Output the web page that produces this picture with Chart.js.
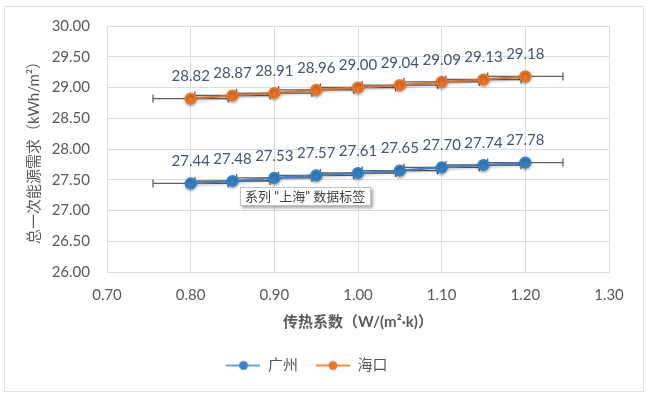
<!DOCTYPE html>
<html>
<head>
<meta charset="utf-8">
<script src="https://cdn.jsdelivr.net/npm/chart.js@4.4.1/dist/chart.umd.min.js"></script>
<style>
  html, body { margin: 0; padding: 0; background: #ffffff; }
  #wrap { position: relative; width: 652px; height: 397px; }
  #frame { position: absolute; left: 4px; top: 6px; width: 638px; height: 384px; border: 1px solid #dde2ea; }
  #c { position: absolute; left: 0; top: 0; }
  #tip { position: absolute; left: 240px; top: 187px; width: 125px; height: 17px; border: 1px solid #bfbfbf;
         background: #ffffff; box-shadow: 2px 2px 3px rgba(0,0,0,0.35);
         font: 13px Lato, "Noto Sans CJK SC", sans-serif; color: #404040; line-height: 17px; padding-left: 4px; box-sizing: content-box; white-space: nowrap; }
</style>
</head>
<body>
<div id="wrap">
  <div id="frame"></div>
  <canvas id="c" width="652" height="397"></canvas>
  <div id="tip">系列 "上海" 数据标签</div>
</div>
<script>
const xValues = [0.80, 0.85, 0.90, 0.95, 1.00, 1.05, 1.10, 1.15, 1.20];
const guangzhou = [27.44, 27.48, 27.53, 27.57, 27.61, 27.65, 27.70, 27.74, 27.78];
const haikou = [28.82, 28.87, 28.91, 28.96, 29.00, 29.04, 29.09, 29.13, 29.18];
const xError = 0.045;
const seriesNames = ['广州', '海口'];
const xTitle = '传热系数（W/(m²·k)）';
const yTitle = '总一次能源需求（kWh/m²）';

const FONT = 'Lato, "Noto Sans CJK SC", sans-serif';
const TXT = '#595959';

function legendIcon(lineColor, dotColor) {
  const cv = document.createElement('canvas');
  cv.width = 34; cv.height = 12;
  const g = cv.getContext('2d');
  g.strokeStyle = lineColor; g.lineWidth = 2;
  g.beginPath(); g.moveTo(0, 6); g.lineTo(34, 6); g.stroke();
  g.fillStyle = dotColor;
  g.beginPath(); g.arc(17, 6, 4.5, 0, Math.PI * 2); g.fill();
  return cv;
}

const colors = [
  { line: '#4a7fbd', dot: '#3483c8', legendLine: '#6fa3d8' },
  { line: '#d0733a', dot: '#ec7426', legendLine: '#f08a4b' }
];

function toPoints(ys) { return xValues.map((x, i) => ({ x: x, y: ys[i] })); }

const errorBarPlugin = {
  id: 'errorBars',
  beforeDatasetsDraw(chart) {
    const ctx = chart.ctx, xs = chart.scales.x, ys = chart.scales.y;
    ctx.save();
    ctx.strokeStyle = '#5f5f5f';
    ctx.lineWidth = 1.3;
    chart.data.datasets.forEach(ds => {
      ds.data.forEach(p => {
        const y = ys.getPixelForValue(p.y);
        const x0 = xs.getPixelForValue(p.x - xError);
        const x1 = xs.getPixelForValue(p.x + xError);
        ctx.beginPath();
        ctx.moveTo(x0, y); ctx.lineTo(x1, y);
        ctx.moveTo(x0, y - 4); ctx.lineTo(x0, y + 4);
        ctx.moveTo(x1, y - 4); ctx.lineTo(x1, y + 4);
        ctx.stroke();
      });
    });
    ctx.restore();
  }
};

const shadowPlugin = {
  id: 'lineShadow',
  beforeDatasetDraw(chart) {
    const ctx = chart.ctx;
    ctx.save();
    ctx.shadowColor = 'rgba(0,0,0,0.3)';
    ctx.shadowBlur = 3;
    ctx.shadowOffsetY = 1.5;
  },
  afterDatasetDraw(chart) { chart.ctx.restore(); }
};

const labelPlugin = {
  id: 'dataLabels',
  afterDatasetsDraw(chart) {
    const ctx = chart.ctx;
    ctx.save();
    ctx.font = '15px ' + FONT;
    ctx.fillStyle = '#44546a';
    ctx.textAlign = 'center';
    ctx.textBaseline = 'middle';
    chart.data.datasets.forEach((ds, di) => {
      const meta = chart.getDatasetMeta(di);
      meta.data.forEach((el, i) => {
        ctx.fillText(ds.data[i].y.toFixed(2), el.x, el.y - 22);
      });
    });
    ctx.restore();
  }
};

new Chart(document.getElementById('c'), {
  type: 'scatter',
  data: {
    datasets: [guangzhou, haikou].map((ys, k) => ({
      label: seriesNames[k],
      data: toPoints(ys),
      showLine: true,
      borderColor: colors[k].line,
      borderWidth: 2.2,
      backgroundColor: colors[k].dot,
      pointBackgroundColor: colors[k].dot,
      pointBorderColor: colors[k].dot,
      pointRadius: 5,
      pointStyle: 'circle',
      legendIcon: legendIcon(colors[k].legendLine, colors[k].dot)
    }))
  },
  plugins: [errorBarPlugin, shadowPlugin, labelPlugin],
  options: {
    responsive: false,
    animation: false,
    events: [],
    layout: { padding: { left: 5, right: 43, top: 18, bottom: 14 } },
    plugins: {
      tooltip: { enabled: false },
      legend: {
        display: true,
        position: 'bottom',
        labels: {
          usePointStyle: true,
          pointStyleWidth: 34,
          padding: 18,
          color: TXT,
          font: { size: 15, family: FONT },
          generateLabels(chart) {
            return chart.data.datasets.map((ds, i) => ({
              text: ds.label,
              pointStyle: ds.legendIcon,
              fillStyle: ds.backgroundColor,
              strokeStyle: ds.borderColor,
              lineWidth: 0,
              fontColor: TXT,
              datasetIndex: i,
              hidden: false
            }));
          }
        }
      }
    },
    scales: {
      x: {
        type: 'linear',
        min: 0.70, max: 1.30,
        ticks: { stepSize: 0.10, padding: 14, color: TXT, font: { size: 15, family: FONT },
                 callback: v => v.toFixed(2) },
        grid: { color: '#d9dee6', drawTicks: false, lineWidth: 1 },
        border: { color: '#d9dee6' },
        title: { display: true, text: xTitle, color: TXT, font: { size: 15, weight: 'bold', family: FONT }, padding: { top: 10, bottom: 9 } },
        afterFit(scale) { scale.height = 68; }
      },
      y: {
        type: 'linear',
        min: 26.00, max: 30.00,
        ticks: { stepSize: 0.50, padding: 17, color: TXT, font: { size: 15, family: FONT },
                 callback: v => v.toFixed(2) },
        grid: { color: '#d9dee6', drawTicks: false, lineWidth: 1 },
        border: { color: '#d9dee6' },
        title: { display: true, text: yTitle, color: TXT, font: { size: 15, family: FONT }, padding: { top: 20, bottom: 0 } },
        afterFit(scale) { scale.width = 102; }
      }
    }
  }
});
</script>
</body>
</html>
